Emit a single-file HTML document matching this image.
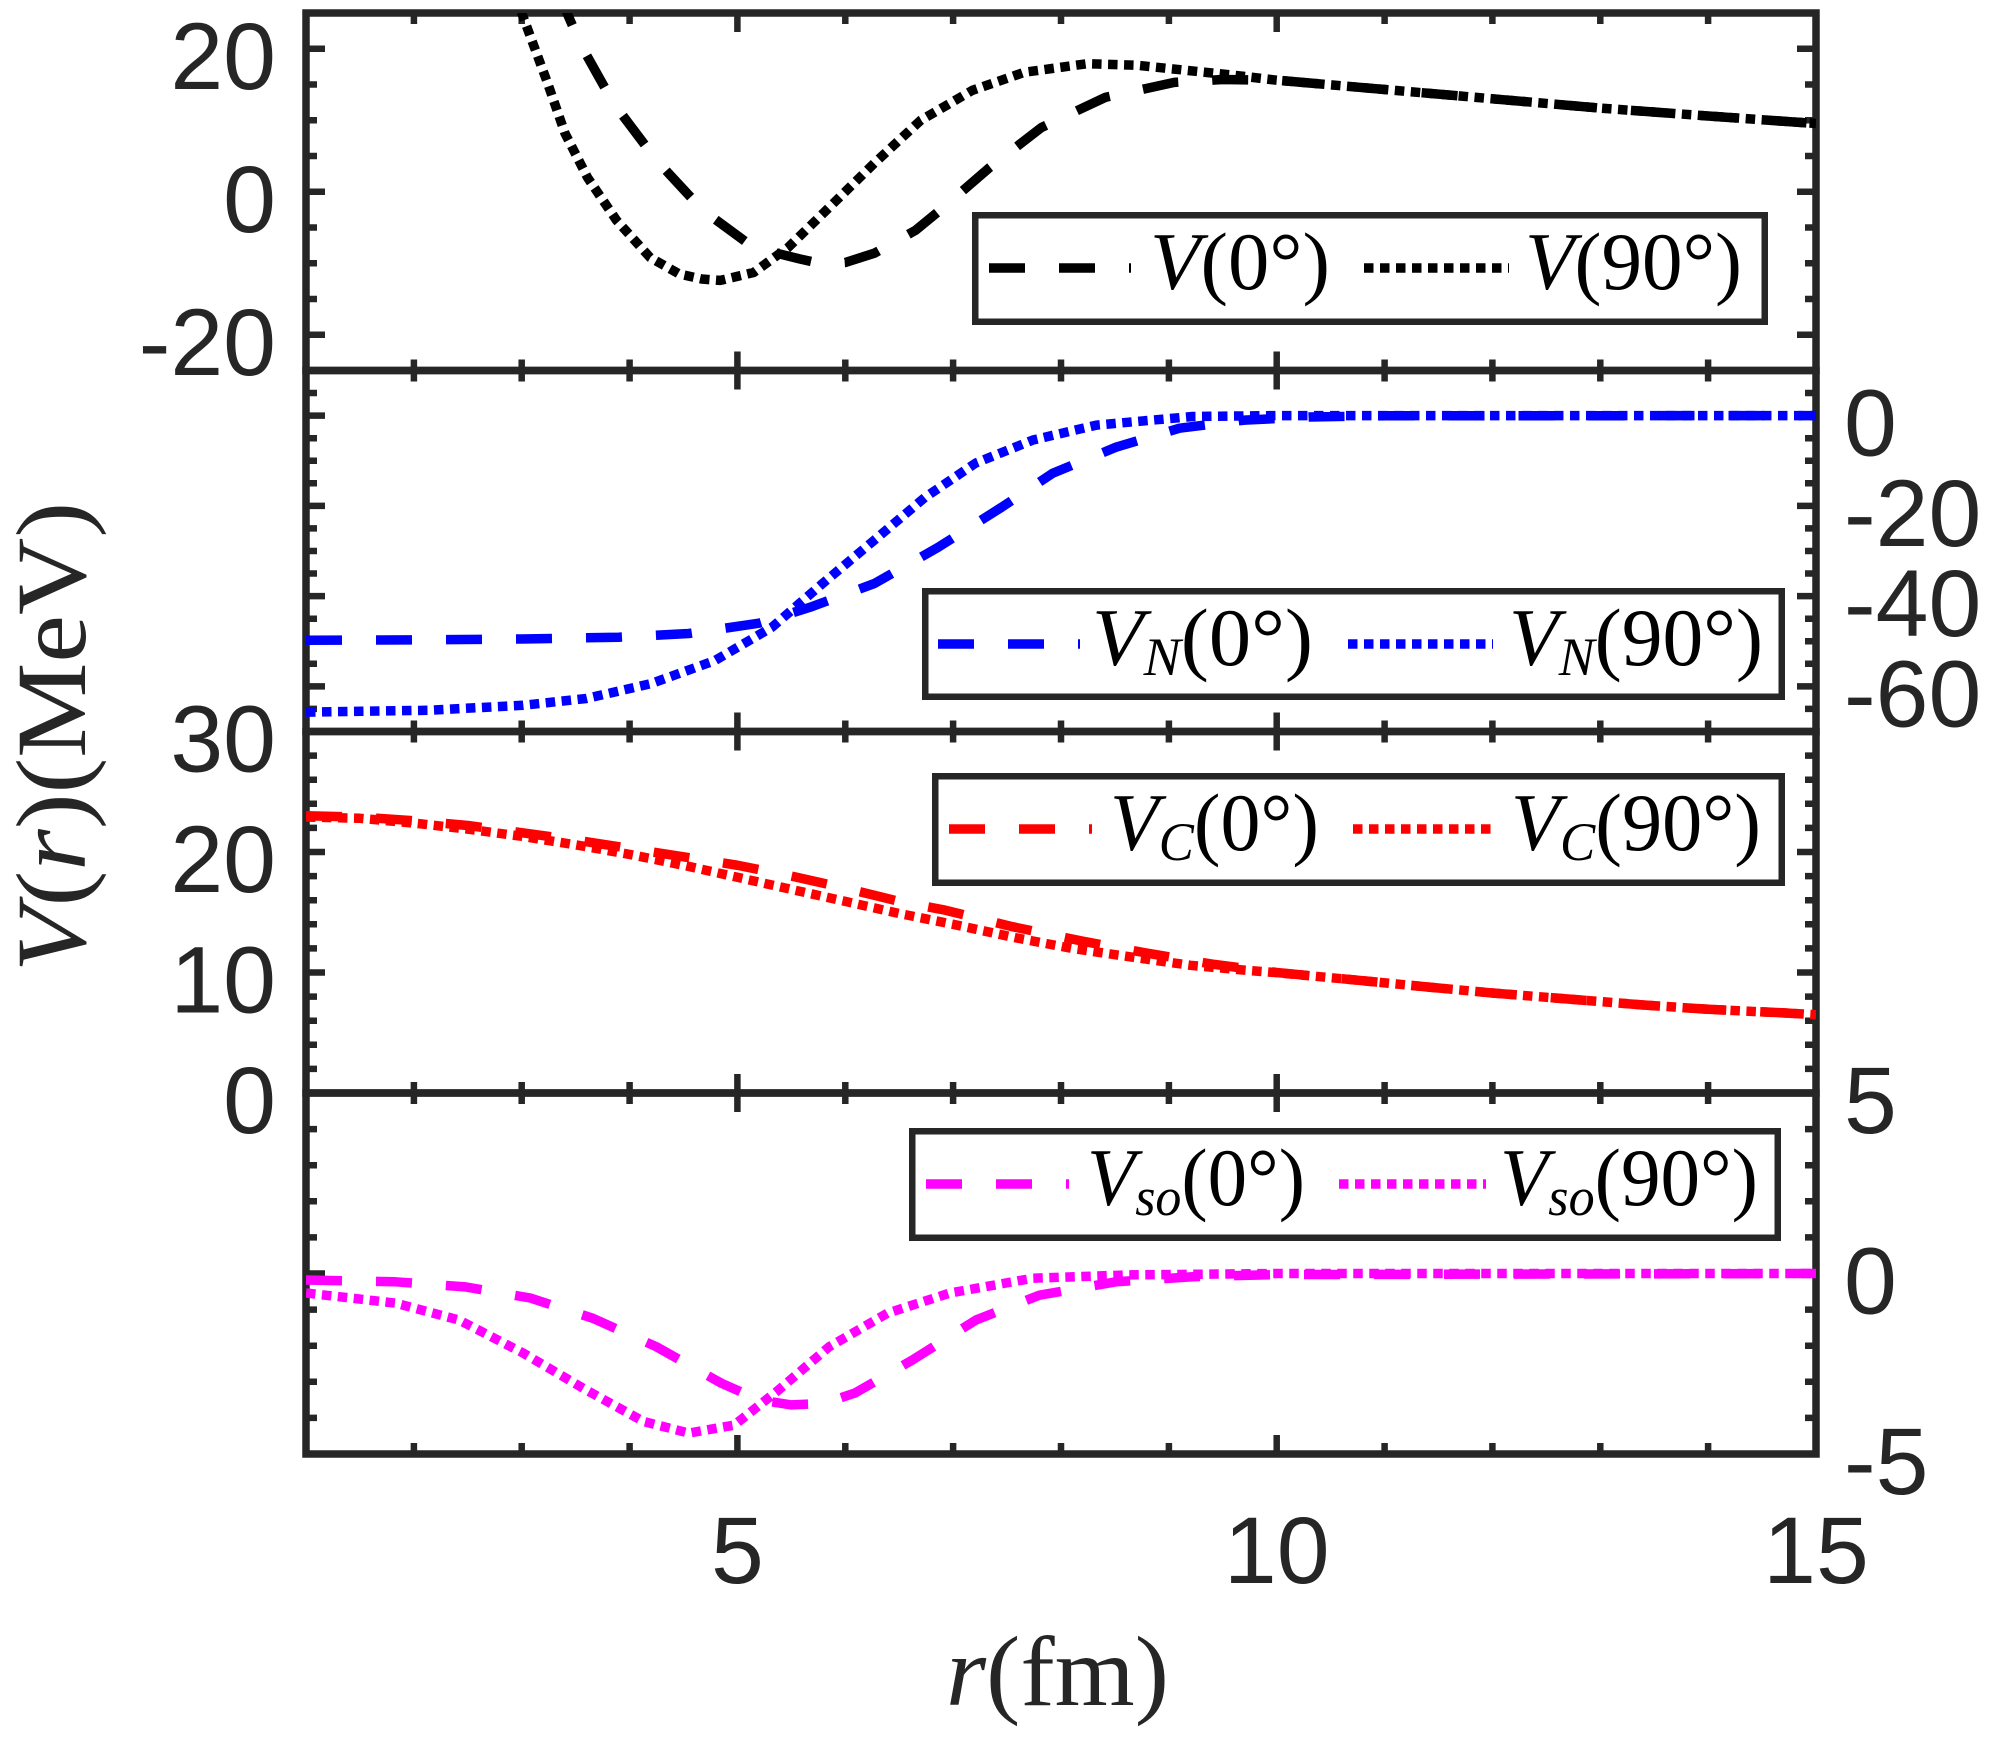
<!DOCTYPE html>
<html>
<head>
<meta charset="utf-8">
<style>
html,body{margin:0;padding:0;background:#fff;}
svg{display:block;}
.tl{font-family:"Liberation Sans",Arial,sans-serif;font-size:95px;fill:#262626;}
.lg{font-family:"Liberation Serif","Times New Roman",serif;font-size:82px;fill:#000;}
.ax{font-family:"Liberation Serif","Times New Roman",serif;font-size:100px;fill:#262626;}
</style>
</head>
<body>
<svg width="1991" height="1737" viewBox="0 0 1991 1737" xmlns="http://www.w3.org/2000/svg">
<rect x="0" y="0" width="1991" height="1737" fill="#fff"/>
<defs>
<clipPath id="c1"><rect x="306" y="13" width="1510" height="357.5"/></clipPath>
<clipPath id="c2"><rect x="306" y="370.5" width="1510" height="361"/></clipPath>
<clipPath id="c3"><rect x="306" y="731.5" width="1510" height="361.5"/></clipPath>
<clipPath id="c4"><rect x="306" y="1093" width="1510" height="361"/></clipPath>
</defs>

<!-- ticks -->
<g stroke="#262626" stroke-width="6.5" fill="none">
<path d="M413.9 13V24M413.9 359.5V381.5M413.9 720.5V742.5M413.9 1082V1104M413.9 1443V1454
M521.7 13V24M521.7 359.5V381.5M521.7 720.5V742.5M521.7 1082V1104M521.7 1443V1454
M629.6 13V24M629.6 359.5V381.5M629.6 720.5V742.5M629.6 1082V1104M629.6 1443V1454
M845.3 13V24M845.3 359.5V381.5M845.3 720.5V742.5M845.3 1082V1104M845.3 1443V1454
M953.1 13V24M953.1 359.5V381.5M953.1 720.5V742.5M953.1 1082V1104M953.1 1443V1454
M1061 13V24M1061 359.5V381.5M1061 720.5V742.5M1061 1082V1104M1061 1443V1454
M1168.9 13V24M1168.9 359.5V381.5M1168.9 720.5V742.5M1168.9 1082V1104M1168.9 1443V1454
M1384.6 13V24M1384.6 359.5V381.5M1384.6 720.5V742.5M1384.6 1082V1104M1384.6 1443V1454
M1492.4 13V24M1492.4 359.5V381.5M1492.4 720.5V742.5M1492.4 1082V1104M1492.4 1443V1454
M1600.3 13V24M1600.3 359.5V381.5M1600.3 720.5V742.5M1600.3 1082V1104M1600.3 1443V1454
M1708.1 13V24M1708.1 359.5V381.5M1708.1 720.5V742.5M1708.1 1082V1104M1708.1 1443V1454
M737.4 13V32M737.4 351.5V389.5M737.4 712.5V750.5M737.4 1074V1112M737.4 1435V1454
M1276.7 13V32M1276.7 351.5V389.5M1276.7 712.5V750.5M1276.7 1074V1112M1276.7 1435V1454"/>
<path d="M306 84.5H317M1816 84.5H1805M306 120.25H317M1816 120.25H1805M306 156H317M1816 156H1805
M306 227.5H317M1816 227.5H1805M306 263.25H317M1816 263.25H1805M306 299H317M1816 299H1805
M306 393H317M1816 393H1805M306 438.2H317M1816 438.2H1805M306 460.7H317M1816 460.7H1805M306 483.3H317M1816 483.3H1805
M306 528.4H317M1816 528.4H1805M306 551H317M1816 551H1805M306 573.5H317M1816 573.5H1805
M306 618.7H317M1816 618.7H1805M306 641.2H317M1816 641.2H1805M306 663.8H317M1816 663.8H1805M306 708.9H317M1816 708.9H1805
M306 755.6H317M1816 755.6H1805M306 779.7H317M1816 779.7H1805M306 803.8H317M1816 803.8H1805M306 827.9H317M1816 827.9H1805
M306 876.1H317M1816 876.1H1805M306 900.2H317M1816 900.2H1805M306 924.3H317M1816 924.3H1805M306 948.4H317M1816 948.4H1805
M306 996.6H317M1816 996.6H1805M306 1020.7H317M1816 1020.7H1805M306 1044.8H317M1816 1044.8H1805M306 1068.9H317M1816 1068.9H1805
M306 1129.1H317M1816 1129.1H1805M306 1165.2H317M1816 1165.2H1805M306 1201.3H317M1816 1201.3H1805M306 1237.4H317M1816 1237.4H1805
M306 1309.6H317M1816 1309.6H1805M306 1345.7H317M1816 1345.7H1805M306 1381.8H317M1816 1381.8H1805M306 1417.9H317M1816 1417.9H1805"/>
<path d="M306 48.75H325M1816 48.75H1797M306 191.75H325M1816 191.75H1797M306 334.75H325M1816 334.75H1797
M306 415.6H325M1816 415.6H1797M306 505.85H325M1816 505.85H1797M306 596.1H325M1816 596.1H1797M306 686.35H325M1816 686.35H1797
M306 852H325M1816 852H1797M306 972.5H325M1816 972.5H1797M306 1273.5H325M1816 1273.5H1797"/>
</g>

<!-- panel frames -->
<g stroke="#262626" stroke-width="7.5" fill="none">
<rect x="306" y="13" width="1510" height="357.5"/>
<rect x="306" y="370.5" width="1510" height="361"/>
<rect x="306" y="731.5" width="1510" height="361.5"/>
<rect x="306" y="1093" width="1510" height="361"/>
</g>

<!-- curves -->
<g fill="none" stroke-width="9.5" stroke-linecap="butt" stroke-linejoin="round">
<g clip-path="url(#c1)" stroke="#000">
<polyline stroke-dasharray="36 34" points="559.5,-8.45 567,13 581,45.2 613.4,103.1 656.5,160.3 702.9,210.3 753.6,247.5 800,259 822.6,264 845.3,262.5 874.4,253.2 915.4,230.4 943.4,207.5 989.8,167.4 1041.6,127.4 1105.2,97.4 1174.3,82.4 1222.8,79.5 1276.7,80.2 1384.6,89.5 1492.4,98.8 1600.3,108.1 1708.1,116 1816,123.5"/>
<polyline stroke-dasharray="9.5 6.5" points="510.9,-1.3 521.7,13 547.6,83.1 564.9,133.1 587.5,177.5 616.6,220.4 650.1,257.5 679.2,274 701.7,279 720.2,280.4 753.6,272.5 788.1,247.5 829.1,207.5 874.4,163.15 920.8,120.25 972.6,90.2 1024.3,72.3 1086.9,63.75 1136.5,65.2 1185,70.2 1233.6,75.2 1276.7,80.2 1384.6,89.5 1492.4,98.8 1600.3,108.1 1708.1,116 1816,123.5"/>
</g>
<g clip-path="url(#c2)" stroke="#0000ff">
<polyline stroke-dasharray="36 34" points="306,640.3 413.9,639.9 521.7,639 618.8,637.2 688.9,633.5 759,623.2 809.7,607.4 874.4,583.5 938,547.4 1001.7,507.2 1052.4,473.4 1116,447.2 1179.6,428.2 1244.4,420.1 1309.1,417 1384.6,415.8 1816,415.6"/>
<polyline stroke-dasharray="9.5 6.5" points="306,712.1 427.9,710.3 522.8,705.3 586.4,698.5 651.1,683.6 714.8,660.6 772,627.2 822.6,583.5 874.4,540.1 925.1,497.3 975.8,463 1033,440 1096.6,425.1 1192.6,416.5 1276.7,415.6 1816,415.6"/>
</g>
<g clip-path="url(#c3)" stroke="#ff0000">
<polyline stroke-dasharray="36 34" points="306,815.8 359.9,817.1 413.9,820.7 467.8,825.5 521.7,832.7 575.6,840 629.6,848.4 683.5,856.8 737.4,865.25 791.4,876.1 845.3,888.15 899.2,901.4 943.4,909.8 1012.5,926.7 1082.6,941.2 1147.3,953.2 1212,964.1 1276.7,972.5 1352.2,979.7 1427.7,987 1492.4,993 1567.9,999 1643.4,1005 1708.1,1009.3 1783.6,1012.9 1816,1014.7"/>
<polyline stroke-dasharray="9.5 6.5" points="306,817 359.9,818.3 413.9,823.1 467.8,829.1 521.7,836.3 575.6,844.8 629.6,854.4 683.5,865.25 737.4,877.3 791.4,889.4 845.3,901.4 899.2,913.5 953.1,924.3 1014.7,937.6 1071.8,948.4 1130,956.8 1190.4,965.3 1244.4,970.1 1276.7,972.7 1352.2,979.7 1427.7,987 1492.4,993 1567.9,999 1643.4,1005 1708.1,1009.3 1783.6,1012.9 1816,1014.7"/>
</g>
<g clip-path="url(#c4)" stroke="#ff00ff">
<polyline stroke-dasharray="36 34" points="306,1280 395.5,1281.8 465.6,1286.9 530.3,1298 592.9,1318.3 656.5,1346.8 721.3,1383.2 759,1399.9 791.4,1404.9 823.7,1403.5 855,1393 912.2,1360.1 975.8,1320.1 1039.4,1295.2 1116,1281.8 1192.6,1276.7 1276.7,1274.6 1816,1273.5"/>
<polyline stroke-dasharray="9.5 6.5" points="306,1293 395.5,1303.1 459.2,1320.1 522.8,1352.9 586.4,1390.1 643.6,1421.5 688.9,1433.1 734.2,1425.1 778.4,1390.1 829.1,1346.8 887.4,1313.2 949.9,1293 1033,1278.2 1129,1274.9 1276.7,1273.5 1816,1273.5"/>
</g>
</g>

<!-- legends -->
<g stroke="#262626" stroke-width="6.5" fill="#fff">
<rect x="975.25" y="215.25" width="789.5" height="106.5"/>
<rect x="925.25" y="591.25" width="856.5" height="105.5"/>
<rect x="935.25" y="776.25" width="846.5" height="106.5"/>
<rect x="912.25" y="1131.25" width="865.5" height="106.5"/>
</g>
<g fill="none" stroke-width="9.5" stroke-linecap="butt">
<path stroke="#000" stroke-dasharray="36 34" d="M989 268H1131"/>
<path stroke="#000" stroke-dasharray="9.5 6.5" d="M1364 268H1509"/>
<path stroke="#0000ff" stroke-dasharray="36 34" d="M938 644H1080"/>
<path stroke="#0000ff" stroke-dasharray="9.5 6.5" d="M1348 644H1493"/>
<path stroke="#ff0000" stroke-dasharray="36 34" d="M949 829H1092"/>
<path stroke="#ff0000" stroke-dasharray="9.5 6.5" d="M1353 829H1497"/>
<path stroke="#ff00ff" stroke-dasharray="36 34" d="M926 1184H1069"/>
<path stroke="#ff00ff" stroke-dasharray="9.5 6.5" d="M1339 1184H1486"/>
</g>
<g class="lg">
<text x="1150" y="289" textLength="180" lengthAdjust="spacingAndGlyphs"><tspan font-style="italic">V</tspan>(0°)</text>
<text x="1525" y="289" textLength="217" lengthAdjust="spacingAndGlyphs"><tspan font-style="italic">V</tspan>(90°)</text>
<text x="1092" y="665" textLength="221" lengthAdjust="spacingAndGlyphs"><tspan font-style="italic">V</tspan><tspan font-style="italic" font-size="54" dy="10">N</tspan><tspan dy="-10">(0°)</tspan></text>
<text x="1509" y="665" textLength="254" lengthAdjust="spacingAndGlyphs"><tspan font-style="italic">V</tspan><tspan font-style="italic" font-size="54" dy="10">N</tspan><tspan dy="-10">(90°)</tspan></text>
<text x="1110" y="850" textLength="209" lengthAdjust="spacingAndGlyphs"><tspan font-style="italic">V</tspan><tspan font-style="italic" font-size="54" dy="10">C</tspan><tspan dy="-10">(0°)</tspan></text>
<text x="1511" y="850" textLength="250" lengthAdjust="spacingAndGlyphs"><tspan font-style="italic">V</tspan><tspan font-style="italic" font-size="54" dy="10">C</tspan><tspan dy="-10">(90°)</tspan></text>
<text x="1087" y="1205" textLength="218" lengthAdjust="spacingAndGlyphs"><tspan font-style="italic">V</tspan><tspan font-style="italic" font-size="54" dy="10">so</tspan><tspan dy="-10">(0°)</tspan></text>
<text x="1500" y="1205" textLength="258" lengthAdjust="spacingAndGlyphs"><tspan font-style="italic">V</tspan><tspan font-style="italic" font-size="54" dy="10">so</tspan><tspan dy="-10">(90°)</tspan></text>
</g>

<!-- tick labels -->
<g class="tl" text-anchor="end">
<text x="276" y="88.75">20</text>
<text x="276" y="231.75">0</text>
<text x="276" y="374.75">-20</text>
<text x="276" y="771.5">30</text>
<text x="276" y="892">20</text>
<text x="276" y="1012.5">10</text>
<text x="276" y="1133">0</text>
</g>
<g class="tl" text-anchor="start">
<text x="1844" y="455.6">0</text>
<text x="1844" y="545.85">-20</text>
<text x="1844" y="636.1">-40</text>
<text x="1844" y="726.35">-60</text>
<text x="1844" y="1133">5</text>
<text x="1844" y="1313.5">0</text>
<text x="1844" y="1494">-5</text>
</g>
<g class="tl" text-anchor="middle">
<text x="737.4" y="1583">5</text>
<text x="1276.7" y="1583">10</text>
<text x="1816" y="1583">15</text>
</g>

<!-- axis labels -->
<text class="ax" x="946" y="1705" textLength="223" lengthAdjust="spacingAndGlyphs"><tspan font-style="italic">r</tspan>(fm)</text>
<text class="ax" transform="translate(85,737) rotate(-90)" x="-235" y="0" textLength="470" lengthAdjust="spacingAndGlyphs"><tspan font-style="italic">V</tspan>(<tspan font-style="italic">r</tspan>)(MeV)</text>
</svg>
</body>
</html>
